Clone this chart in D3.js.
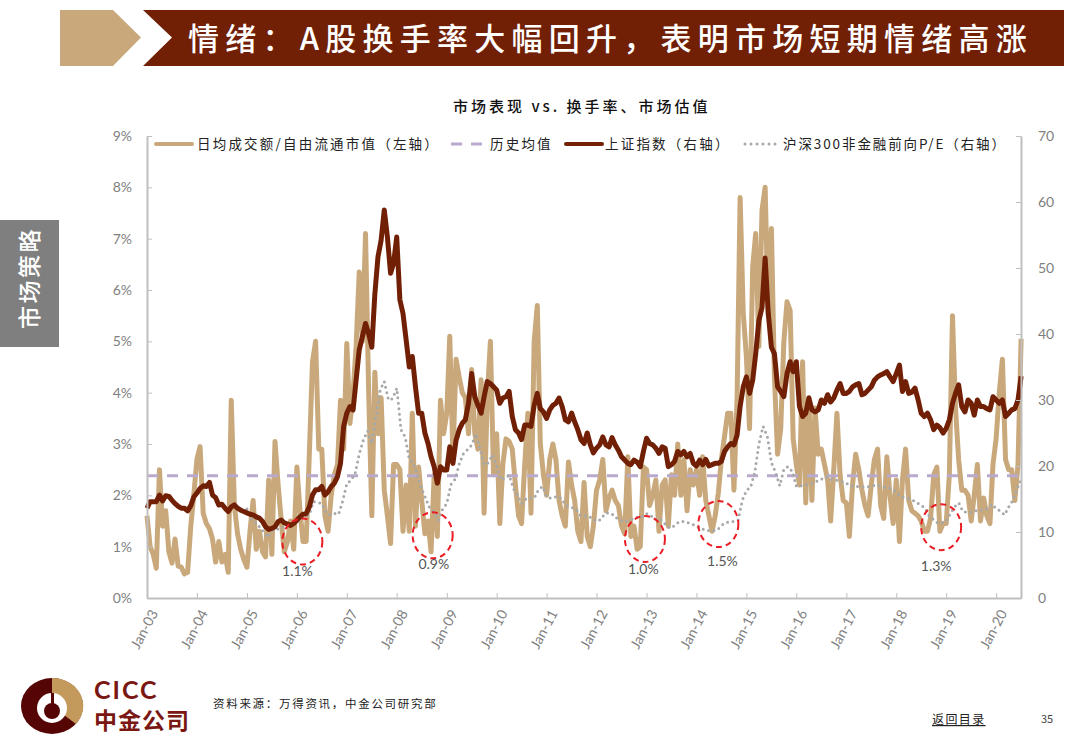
<!DOCTYPE html>
<html>
<head>
<meta charset="utf-8">
<script src="https://cdn.jsdelivr.net/npm/d3@7"></script>
<style>
  body { margin: 0; background: #fff; }
  text { font-family: "Noto Sans CJK SC", sans-serif; }
  .num { font-family: Lato, "Open Sans", sans-serif; fill: #7f7f7f; font-size: 14px; }
</style>
</head>
<body>
<div id="chart"></div>
<script>
// readings per year, Jan-03 onward: 16 a year for turnover and index, 12 a year for P/E
const turnover = [
  1.6,1.0,.85,.58,2.5,1.4,1.7,.9,.68,1.15,.62,.6,.47,.5,1.4,2.0,
  2.7,2.95,1.65,1.45,1.35,1.15,.7,1.1,.7,.85,.5,3.85,1.8,1.25,.95,.75,
  .6,1.3,1.9,.95,1.3,.9,.8,2.3,.85,3.05,2.2,1.5,.9,1.1,1.5,.95,
  2.55,1.7,1.1,1.1,2.8,4.6,5.0,2.9,2.9,1.6,1.3,2.0,2.4,2.6,3.85,2.9,
  4.96,3.4,4.0,4.9,6.35,5.0,7.1,4.0,1.6,4.4,3.2,3.9,2.1,1.6,1.06,2.6,
  2.6,2.5,1.3,2.2,1.3,3.6,1.4,2.55,1.9,1.25,1.5,.9,2.4,1.2,3.85,3.2,
  3.6,5.1,2.75,4.65,4.3,4.0,3.9,3.2,4.45,3.2,2.9,4.25,1.65,3.9,5.0,2.4,
  3.2,1.45,2.6,3.1,3.05,2.9,2.2,1.6,1.45,2.6,3.6,1.65,5.0,5.7,3.0,2.4,
  2.0,2.7,3.0,2.7,1.9,1.6,1.4,2.65,2.2,1.9,1.3,1.1,2.25,1.2,1.0,1.4,
  2.1,2.3,2.7,1.7,1.95,2.1,1.9,1.8,1.4,1.25,2.75,1.2,1.4,.95,1.0,2.55,
  2.5,1.8,2.0,2.3,1.3,2.2,2.3,1.4,2.4,2.0,3.0,2.0,2.7,1.7,2.5,2.2,
  2.5,2.0,2.75,1.9,1.6,1.3,1.6,2.05,2.7,3.15,3.6,3.6,2.1,3.9,7.8,5.55,
  4.7,3.3,6.45,7.1,4.9,7.55,8.0,5.5,7.2,4.3,2.8,3.3,5.0,5.77,5.6,3.1,
  2.6,2.2,4.6,1.85,3.9,1.9,3.7,2.8,2.9,2.6,2.3,1.5,2.5,3.6,2.4,1.9,
  1.85,1.2,2.2,2.8,2.5,2.1,1.8,1.6,2.2,2.7,2.9,1.8,1.55,2.75,2.0,1.45,
  2.3,1.1,2.3,2.9,1.9,1.7,1.65,1.6,1.5,1.3,1.3,1.55,2.4,2.55,1.3,1.45,
  1.45,2.4,5.5,3.7,2.7,2.1,2.1,2.0,1.5,2.0,2.6,1.5,1.95,1.6,1.45,2.6,
  3.1,4.0,4.65,2.7,2.5,2.5,1.9,2.6,5.05
];
const shIndex = [
  13.6,14.6,14.6,14.6,15.6,14.7,15.5,15.4,14.8,14.3,13.9,13.6,13.6,13.2,14.0,15.3,
  15.9,16.6,17,16.9,17.5,15.6,15.2,14.1,14.2,13.6,13.1,13.8,14.1,13.6,13.3,13.1,
  12.9,12.7,12.6,12.3,12.1,11.6,10.8,10.4,10.55,10.8,11.6,11.8,11.4,11.2,11,11.3,
  11.8,12.3,12.7,12.8,13.8,15.6,16.4,16.4,16.9,15.6,16.1,16.9,17.4,18.4,20.4,26,
  28,29,28.5,33,37.6,39.6,41.6,40,38,46,51.7,54.2,58.8,54.7,49.2,50.7,
  54.7,45.2,43.1,39.1,35,36.6,32,28,28,25,23.4,21.4,19.9,17.4,19.9,19.4,
  19.4,22.9,20.4,23.9,25.5,26.5,27,29.5,34,30.5,29.2,28,30.5,32.8,32.5,32,
  31.5,29.5,30.3,30.5,31.3,27.5,25.5,25,24,26.2,26.2,26,29.2,31,28.7,28.2,
  27.2,28.5,29.2,29.5,30.3,29,27,26.7,28,26.7,25.5,24,23.4,25,23.2,22,
  22.7,23.2,24.4,23.2,22.9,24.3,23.2,22.4,21.4,20.9,20.4,20.2,20.9,20.6,19.9,22.2,
  24.2,23.4,23.2,22.7,21.9,22.9,22.7,19.9,20.2,20.7,22.2,21.7,22.2,21.4,21.9,20.4,
  20,20.9,20.2,21,20,20.2,20.4,20.4,20.7,22.2,22.9,23.4,23.2,24.7,29,32,
  33.5,31,33,37,42,44,51.5,43.1,38,37,32,31.3,30.5,34,35.8,34.3,
  35.8,29,27.5,28,30.3,28.5,28.2,28.5,30,29.5,30.8,29.7,30.3,31.5,32.5,31,
  31,31.3,32,32.3,32.5,30.8,31,31.5,32,33,33.5,33.8,34,34.3,33.5,32.8,
  34,35.3,31.3,32.8,31,31.2,31.8,30,28,27.5,28,27,25.5,26.2,25.8,25,
  25.7,27,29.5,31,32.3,29,28.2,30,29.5,27.7,30,29,29,28.7,28.5,30.5,
  30,29.5,30,27.5,28,28.5,28.7,30,33.6
];
const forwardPE = [
  13.5,12,11.5,10.8,10,9.2,10.2,10.4,10.5,10.8,11,11.2,
  11.5,12,12.3,12.7,14.6,14.5,14.3,12.9,12.6,12.8,12.7,14.7,
  17.4,17.8,18.9,21.9,24,25.3,23.4,27.5,31.5,32.8,30,30.2,
  31.8,25.5,24.4,21,20.4,18.4,16.5,15,13.5,13,11.8,13.5,
  14.3,17.2,18,20.3,21.9,22.5,23.2,24.9,22.5,20.2,20.5,21.7,
  20,17.9,18.2,18.6,16.6,15.5,14.3,15,15.1,15.1,16.4,16.9,
  15.3,15.1,15.3,15.4,14.6,13.9,13.7,13.5,12.6,12.4,12.5,12,
  11.6,11.9,12.8,12.9,12.6,12,11.7,11.6,11.8,12.1,12.3,12.3,
  12.8,12.5,11.9,12,11.6,10.8,10.6,11.2,11.6,11.6,11.4,11.2,
  10.8,10.6,10.3,10.2,10.2,10.3,11,11.4,11.6,11.6,11.8,14.8,
  16.3,16.8,19,23.4,26,24.5,20.5,19,17,19.5,19.9,19.2,
  16.9,17,17.1,17.2,17.5,17.7,18,18.4,18,17.9,17.8,17.6,
  17.4,17,16.9,16.9,16.8,16.8,17,17.1,17,16.8,16.7,16.6,
  16,15.4,15.2,15,14.8,14.4,14.1,13.5,12.3,11.9,11.3,11.4,
  11.7,12.8,13.8,14.4,13.1,13,13,13.2,13.3,13.4,13.5,14.2,
  13.5,13.2,12.6,13.8,14.8,16.5,18
];
const historicalMean = 2.38;

const startYears = {turnover: 2003, shIndex: 2003, forwardPE: 2005};
const leftTicks = [0,1,2,3,4,5,6,7,8,9];
const rightTicks = [0,10,20,30,40,50,60,70];

// circled troughs: date, level on the left axis, and the label under each
const troughDates = ['2006-02-10','2008-09-20','2012-12-20','2014-06-10','2018-11-25'];
const troughLevels = [1.1,1.22,1.15,1.44,1.38];
const troughLabels = ['1.1%','0.9%','1.0%','1.5%','1.3%'];
const troughLabelLevels = [.52,.66,.56,.72,.62];
const troughLabelDates = ['2006-01-05','2008-09-28','2012-12-08','2014-07-10','2018-10-20'];

const legendItems = ['日均成交额/自由流通市值（左轴）','历史均值','上证指数（右轴）','沪深300非金融前向P/E（右轴）'];

const config = {
  width: 1080, height: 754,
  margin: {top: 136, right: 59, bottom: 156, left: 147},
  tan: '#c9a97c', dark: '#722005', lavender: '#b9aacd', grey: '#a6a8aa', axis: '#bfbfbf', red: '#ea1c24'
};

const svg = d3.select('#chart').append('svg')
    .attr('width', config.width)
    .attr('height', config.height);

// slide furniture
svg.append('polygon').attr('points', '60,10 113,10 141,37.5 113,66 60,66').attr('fill', config.tan);
svg.append('polygon').attr('points', '143,10 1064,10 1064,66 143,66 172,37.5').attr('fill', config.dark);
svg.append('text').attr('x', 188).attr('y', 50)
    .attr('fill', '#fff').attr('font-size', 31).attr('font-weight', 500)
    .style('letter-spacing', '6.25px')
    .text('情绪：A股换手率大幅回升，表明市场短期情绪高涨');

svg.append('rect').attr('x', 0).attr('y', 220).attr('width', 59).attr('height', 127).attr('fill', '#7f7f7f');
svg.append('text').attr('transform', 'translate(38,329) rotate(-90)')
    .attr('fill', '#fff').attr('font-size', 23).attr('font-weight', 500)
    .style('letter-spacing', '2.5px')
    .text('市场策略');

svg.append('text').attr('x', 453).attr('y', 112)
    .attr('fill', '#111').attr('font-size', 15).attr('font-weight', 500)
    .style('letter-spacing', '3px')
    .text('市场表现 vs. 换手率、市场估值');

// chart
const innerW = config.width - config.margin.left - config.margin.right;
const innerH = config.height - config.margin.top - config.margin.bottom;
const chart = svg.append('g').attr('transform', `translate(${config.margin.left},${config.margin.top})`);

const x = d3.scaleTime().domain([new Date(2003, 0, 1), new Date(2020, 6, 1)]).range([0, innerW]);
const yLeft = d3.scaleLinear().domain([0, 9]).range([innerH, 0]);
const yRight = d3.scaleLinear().domain([0, 70]).range([innerH, 0]);

// value i of a series sampled perYear times a year from a start year
const dateOf = (start, perYear, i) => new Date(start, 0, 1 + Math.round(i * 365.25 / perYear));
const lineOn = (scale, start, perYear) => d3.line()
    .x((d, i) => x(dateOf(start, perYear, i)))
    .y(d => scale(d));

chart.append('path').datum(turnover)
    .attr('d', lineOn(yLeft, startYears.turnover, 16))
    .attr('fill', 'none').attr('stroke', config.tan).attr('stroke-width', 5)
    .attr('stroke-linejoin', 'round');

chart.append('line')
    .attr('x1', 0).attr('x2', innerW)
    .attr('y1', yLeft(historicalMean)).attr('y2', yLeft(historicalMean))
    .attr('stroke', config.lavender).attr('stroke-width', 3).attr('stroke-dasharray', '11 9');

chart.append('path').datum(forwardPE)
    .attr('d', lineOn(yRight, startYears.forwardPE, 12))
    .attr('fill', 'none').attr('stroke', config.grey).attr('stroke-width', 3)
    .attr('stroke-linecap', 'round').attr('stroke-dasharray', '0 5.5');

chart.append('path').datum(shIndex)
    .attr('d', lineOn(yRight, startYears.shIndex, 16))
    .attr('fill', 'none').attr('stroke', config.dark).attr('stroke-width', 5)
    .attr('stroke-linejoin', 'round');

// axes, ticks point inwards
const xAxis = d3.axisBottom(x)
    .tickValues(d3.range(2003, 2021).map(y => new Date(y, 0, 1)))
    .tickFormat(d3.timeFormat('%b-%y'))
    .tickSizeInner(-5).tickSizeOuter(0).tickPadding(8);
const leftAxis = d3.axisLeft(yLeft).tickValues(leftTicks).tickFormat(d => d + '%')
    .tickSizeInner(-5).tickSizeOuter(0).tickPadding(15);
const rightAxis = d3.axisRight(yRight).tickValues(rightTicks)
    .tickSizeInner(-5).tickSizeOuter(0).tickPadding(17);

const xG = chart.append('g').attr('transform', `translate(0,${innerH})`).call(xAxis);
const leftG = chart.append('g').call(leftAxis);
const rightG = chart.append('g').attr('transform', `translate(${innerW},0)`).call(rightAxis);

[xG, leftG, rightG].forEach(g => {
  g.selectAll('.domain').attr('stroke', config.axis).attr('stroke-width', 2);
  g.selectAll('.tick line').attr('stroke', config.axis).attr('stroke-width', 1);
  g.selectAll('text').attr('class', 'num').attr('font-family', null).attr('font-size', null);
});
xG.selectAll('text')
    .attr('text-anchor', 'end').attr('dy', 0).attr('x', 11).attr('y', 15)
    .attr('transform', 'rotate(-62 11 15)');

// circled troughs
chart.selectAll('.trough').data(troughDates).join('ellipse')
    .attr('class', 'trough')
    .attr('cx', d => x(new Date(d)))
    .attr('cy', (d, i) => yLeft(troughLevels[i]))
    .attr('rx', 20).attr('ry', 23)
    .attr('fill', 'none').attr('stroke', config.red).attr('stroke-width', 2)
    .attr('stroke-dasharray', '6 4');
chart.selectAll('.trough-label').data(troughLabels).join('text')
    .attr('class', 'trough-label num')
    .attr('x', (d, i) => x(new Date(troughLabelDates[i])))
    .attr('y', (d, i) => yLeft(troughLabelLevels[i]))
    .attr('text-anchor', 'middle').attr('dy', '.35em')
    .style('fill', '#555')
    .text(d => d);

// legend
const legendY = 144;
const legend = svg.append('g').attr('font-size', 13.5).attr('fill', '#222').style('letter-spacing', '2.2px');
legend.append('line').attr('x1', 156).attr('x2', 192).attr('y1', legendY).attr('y2', legendY)
    .attr('stroke', config.tan).attr('stroke-width', 4).attr('stroke-linecap', 'round');
legend.append('line').attr('x1', 451).attr('x2', 482).attr('y1', legendY).attr('y2', legendY)
    .attr('stroke', config.lavender).attr('stroke-width', 3).attr('stroke-dasharray', '11 9');
legend.append('line').attr('x1', 566).attr('x2', 602).attr('y1', legendY).attr('y2', legendY)
    .attr('stroke', config.dark).attr('stroke-width', 4).attr('stroke-linecap', 'round');
legend.append('line').attr('x1', 745).attr('x2', 779).attr('y1', legendY).attr('y2', legendY)
    .attr('stroke', config.grey).attr('stroke-width', 3).attr('stroke-linecap', 'round').attr('stroke-dasharray', '0 6');
legend.selectAll('text').data(legendItems).join('text')
    .attr('x', (d, i) => [197, 490, 605, 783][i])
    .attr('y', legendY + 5)
    .style('letter-spacing', (d, i) => i === 3 ? '1.9px' : null)
    .text(d => d);

// logo and footer
const logo = svg.append('g').attr('transform', 'translate(52,706)');
logo.append('ellipse').attr('rx', 31).attr('ry', 28).attr('fill', '#560505');
logo.append('path').attr('d', 'M0,-28 A31,28 0 0 1 24,18 L0,0 Z').attr('fill', '#c49a5c');
logo.append('ellipse').attr('rx', 15).attr('ry', 15).attr('cy', 2).attr('fill', '#fff');
logo.append('ellipse').attr('rx', 8).attr('ry', 8).attr('cy', 5).attr('fill', '#560505');
logo.append('rect').attr('x', -1).attr('y', -13).attr('width', 3).attr('height', 11).attr('fill', '#560505');

svg.append('text').attr('x', 94).attr('y', 699)
    .attr('fill', '#7a1712').attr('font-size', 25).attr('font-weight', 700)
    .style('font-family', 'Lato, sans-serif').style('letter-spacing', '2px').text('CICC');
svg.append('text').attr('x', 94).attr('y', 729)
    .attr('fill', '#7a1712').attr('font-size', 23).attr('font-weight', 700)
    .style('letter-spacing', '1px')
    .text('中金公司');
svg.append('text').attr('x', 213).attr('y', 708)
    .attr('fill', '#222').attr('font-size', 11.5).style('letter-spacing', '1.7px')
    .text('资料来源：万得资讯，中金公司研究部');
svg.append('text').attr('x', 932).attr('y', 724)
    .attr('fill', '#222').attr('font-size', 12).attr('text-decoration', 'underline')
    .style('letter-spacing', '1.4px')
    .text('返回目录');
svg.append('text').attr('x', 1041).attr('y', 723)
    .attr('fill', '#444').attr('font-size', 11).text('35');
</script>
</body>
</html>
